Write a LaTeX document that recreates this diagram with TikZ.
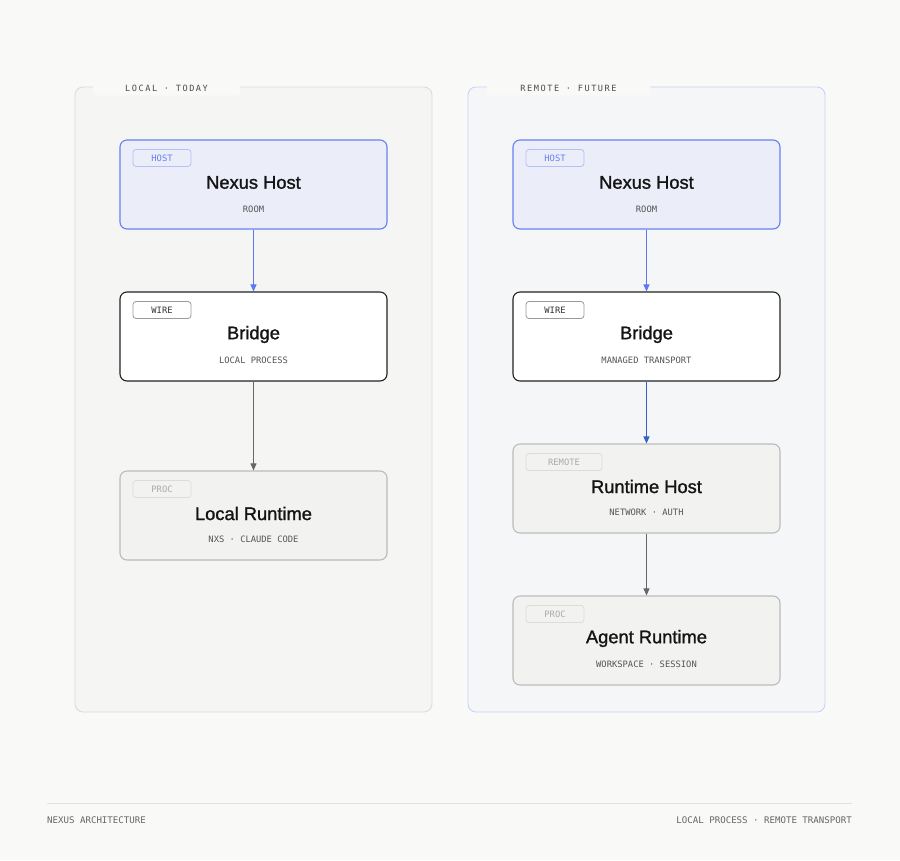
\documentclass[tikz,border=0pt]{standalone}
\usepackage{fontspec}
\setmainfont{Liberation Sans}
\newfontfamily\titlef[FakeBold=1.3]{Liberation Sans}
\newfontfamily\monof{DejaVu Sans Mono}
\newfontfamily\monosp[LetterSpace=18]{DejaVu Sans Mono}
\usetikzlibrary{arrows.meta}
\definecolor{pagebg}{HTML}{F9F9F7}
\definecolor{lpfill}{HTML}{F5F5F4}
\definecolor{lpline}{HTML}{DADAD8}
\definecolor{rpfill}{HTML}{F5F6F8}
\definecolor{rpline}{HTML}{C6D0F8}
\definecolor{hostfill}{HTML}{EBEDF8}
\definecolor{hostline}{HTML}{6680F2}
\definecolor{hosttagline}{HTML}{B4C0F6}
\definecolor{hosttagtext}{HTML}{6680F0}
\definecolor{procfill}{HTML}{F2F2F1}
\definecolor{procline}{HTML}{BBBBBA}
\definecolor{proctagline}{HTML}{DCDCDA}
\definecolor{proctagtext}{HTML}{AAAAAA}
\definecolor{wireline}{HTML}{222222}
\definecolor{wiretagline}{HTML}{999999}
\definecolor{subtext}{HTML}{555555}
\definecolor{arrblue}{HTML}{5C78F0}
\definecolor{arrdblue}{HTML}{3462C4}
\definecolor{arrgray}{HTML}{666666}
\definecolor{foottext}{HTML}{666666}
\definecolor{footline}{HTML}{E2E2E0}
\begin{document}
\begin{tikzpicture}[x=1pt,y=-1pt,
  panel/.style={draw, line width=0.8pt, rounded corners=8pt, minimum width=357pt, minimum height=625pt, inner sep=0pt},
  card/.style={rounded corners=7pt, minimum width=267pt, minimum height=89pt, inner sep=0pt, line width=1.1pt},
  hostcard/.style={card, draw=hostline, fill=hostfill},
  wirecard/.style={card, draw=wireline, fill=white},
  proccard/.style={card, draw=procline, fill=procfill},
  tag/.style={rounded corners=3pt, minimum width=58pt, minimum height=17pt, inner sep=0pt, line width=0.8pt, font=\monof\fontsize{8.8}{10}\selectfont},
  hosttag/.style={tag, draw=hosttagline, fill=hostfill, text=hosttagtext},
  wiretag/.style={tag, draw=wiretagline, fill=white, text=black!80},
  proctag/.style={tag, draw=proctagline, fill=procfill, text=proctagtext},
  title/.style={font=\titlef\fontsize{18.3}{20}\selectfont, text=black!92, inner sep=0pt},
  sub/.style={font=\monof\fontsize{8.8}{10}\selectfont, text=subtext, inner sep=0pt},
  plabel/.style={font=\monosp\fontsize{8.6}{10}\selectfont, text=black!70, inner sep=0pt},
  foot/.style={font=\monof\fontsize{9.1}{10}\selectfont, text=foottext, inner sep=0pt},
  arr/.style={-{Triangle[length=7pt,width=6pt]}, line width=1pt}
]
\fill[pagebg] (0,0) rectangle (900,860);
\useasboundingbox (0,0) rectangle (900,860);

% panels
\node[panel, draw=lpline, fill=lpfill] (lp) at (253.5,399.5) {};
\node[panel, draw=rpline, fill=rpfill] (rp) at (646.5,399.5) {};
\fill[pagebg, rounded corners=3pt] (93,80) rectangle (240,95.5);
\fill[pagebg, rounded corners=3pt] (487,80) rectangle (650,95.5);
\node[plabel] (lpl) at (166.5,88) {LOCAL · TODAY};
\node[plabel] (rpl) at (568.5,88) {REMOTE · FUTURE};

% left column
\node[hostcard] (lh) at (253.5,184.5) {};
\node[hosttag] (lht) at (162,158) {HOST};
\node[title] (lhn) at (253.5,182.5) {Nexus Host};
\node[sub] (lhs) at (253.5,209) {ROOM};

\node[wirecard] (lb) at (253.5,336.5) {};
\node[wiretag] (lbt) at (162,310) {WIRE};
\node[title] (lbn) at (253.5,334.5) {Bridge};
\node[sub] (lbs) at (253.5,360) {LOCAL PROCESS};

\node[proccard] (lr) at (253.5,515.5) {};
\node[proctag] (lrt) at (162,489) {PROC};
\node[title] (lrn) at (253.5,513.5) {Local Runtime};
\node[sub] (lrs) at (253.5,539) {NXS · CLAUDE CODE};

% right column
\node[hostcard] (rh) at (646.5,184.5) {};
\node[hosttag] (rht) at (555,158) {HOST};
\node[title] (rhn) at (646.5,182.5) {Nexus Host};
\node[sub] (rhs) at (646.5,209) {ROOM};

\node[wirecard] (rb) at (646.5,336.5) {};
\node[wiretag] (rbt) at (555,310) {WIRE};
\node[title] (rbn) at (646.5,334.5) {Bridge};
\node[sub] (rbs) at (646.5,360) {MANAGED TRANSPORT};

\node[proccard] (rrh) at (646.5,488.5) {};
\node[proctag, minimum width=76pt] (rrht) at (564,462) {REMOTE};
\node[title] (rrhn) at (646.5,486.5) {Runtime Host};
\node[sub] (rrhs) at (646.5,512) {NETWORK · AUTH};

\node[proccard] (ra) at (646.5,640.5) {};
\node[proctag] (rat) at (555,614) {PROC};
\node[title] (ran) at (646.5,638.5) {Agent Runtime};
\node[sub] (ras) at (646.5,664) {WORKSPACE · SESSION};

% connectors
\draw[arr, draw=arrblue, fill=arrblue] (lh.south) -- (lb.north);
\draw[arr, draw=arrgray, fill=arrgray, line width=0.8pt] (lb.south) -- (lr.north);
\draw[arr, draw=arrblue, fill=arrblue] (rh.south) -- (rb.north);
\draw[arr, draw=arrdblue, fill=arrdblue, line width=1.2pt] (rb.south) -- (rrh.north);
\draw[arr, draw=arrgray, fill=arrgray, line width=0.8pt] (rrh.south) -- (ra.north);

% footer
\coordinate (fl) at (47,803);
\coordinate (fr) at (852,803);
\draw[footline, line width=0.8pt] (fl) -- (fr);
\node[foot, anchor=west] (ft1) at (47,820) {NEXUS ARCHITECTURE};
\node[foot, anchor=east] (ft2) at (852,820) {LOCAL PROCESS · REMOTE TRANSPORT};
\end{tikzpicture}
\end{document}
